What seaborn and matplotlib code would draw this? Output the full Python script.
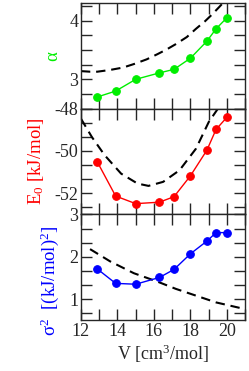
import numpy as np
import matplotlib
matplotlib.use("Agg")
import matplotlib.pyplot as plt
from matplotlib.ticker import MultipleLocator
import seaborn as sns

# measured points
V = [12.9, 13.9, 15.0, 16.3, 17.1, 18.0, 18.9, 19.4, 20.0]
alpha = [2.70, 2.80, 3.00, 3.11, 3.17, 3.36, 3.65, 3.86, 4.05]
E0 = [-50.52, -52.13, -52.49, -52.42, -52.16, -51.17, -49.96, -48.98, -48.40]
sigma2 = [1.71, 1.37, 1.35, 1.51, 1.70, 2.07, 2.37, 2.57, 2.57]

# dashed reference curves
V_alpha_fit = [12.0, 12.5, 12.9, 13.6, 14.3, 14.9, 15.6, 16.2, 16.7, 17.2, 17.8, 18.3, 18.8, 19.2, 19.6, 19.9]
alpha_fit = [3.14, 3.13, 3.13, 3.16, 3.20, 3.26, 3.34, 3.43, 3.51, 3.60, 3.72, 3.86, 3.99, 4.11, 4.24, 4.34]
V_E_fit = [12.0, 12.6, 13.3, 14.2, 15.1, 15.7, 16.5, 17.4, 18.3, 19.0, 19.5]
E_fit = [-48.47, -49.34, -50.20, -51.07, -51.54, -51.65, -51.46, -50.91, -49.89, -48.63, -48.0]
V_s_fit = [12.5, 13.6, 14.9, 16.2, 17.2, 18.3, 19.4, 20.9, 21.0]
s_fit = [2.18, 1.89, 1.61, 1.41, 1.24, 1.08, 0.92, 0.77, 0.76]

sns.set_style("ticks")
plt.rcParams['font.family'] = ['Liberation Serif', 'DejaVu Serif']
plt.rcParams['mathtext.default'] = 'regular'
plt.rcParams['axes.unicode_minus'] = False
plt.rcParams['font.size'] = 13

fig, axes = plt.subplots(3, 1, figsize=(2.49, 3.71), dpi=100, sharex=True)
fig.subplots_adjust(left=0.325, right=0.985, top=0.992, bottom=0.137, hspace=0)

panels = [
    (alpha, V_alpha_fit, alpha_fit, '#00ee00', r'α', (2.5, 4.3), 1, 0.25),
    (E0, V_E_fit, E_fit, '#ff0000', r'E$_0$ [kJ/mol]', (-53, -48), 2, 2 / 3),
    (sigma2, V_s_fit, s_fit, '#0000ff', r'σ$^2$  [(kJ/mol)$^2$]', (0.5, 3), 1, 1 / 3),
]

for ax, (y, vf, yf, col, lab, ylim, major, minor) in zip(axes, panels):
    line = sns.lineplot(x=vf, y=yf, ax=ax, color='black', lw=1.5, sort=False)
    line.lines[-1].set_dashes((4.5, 2.8))
    sns.lineplot(x=V, y=y, ax=ax, color=col, lw=1, marker='o', markersize=5.5,
                 markeredgecolor=col, sort=False)
    ax.set_xlim(12, 21)
    ax.set_ylim(*ylim)
    ax.yaxis.set_major_locator(MultipleLocator(major))
    ax.yaxis.set_minor_locator(MultipleLocator(minor))
    ax.xaxis.set_major_locator(MultipleLocator(2))
    ax.xaxis.set_minor_locator(MultipleLocator(1))
    ax.tick_params(which='both', direction='in', top=True, right=True,
                   length=8, width=1, labelsize=13, pad=2)
    ax.set_ylabel(lab, color=col, fontsize=13.5, labelpad=6)
    for s in ax.spines.values():
        s.set_linewidth(1)

axes[2].yaxis.label.set_y(0.37)
axes[2].set_xlabel(r'V [cm$^3$/mol]', fontsize=13, labelpad=2)

fig.savefig("out.png", dpi=100)
